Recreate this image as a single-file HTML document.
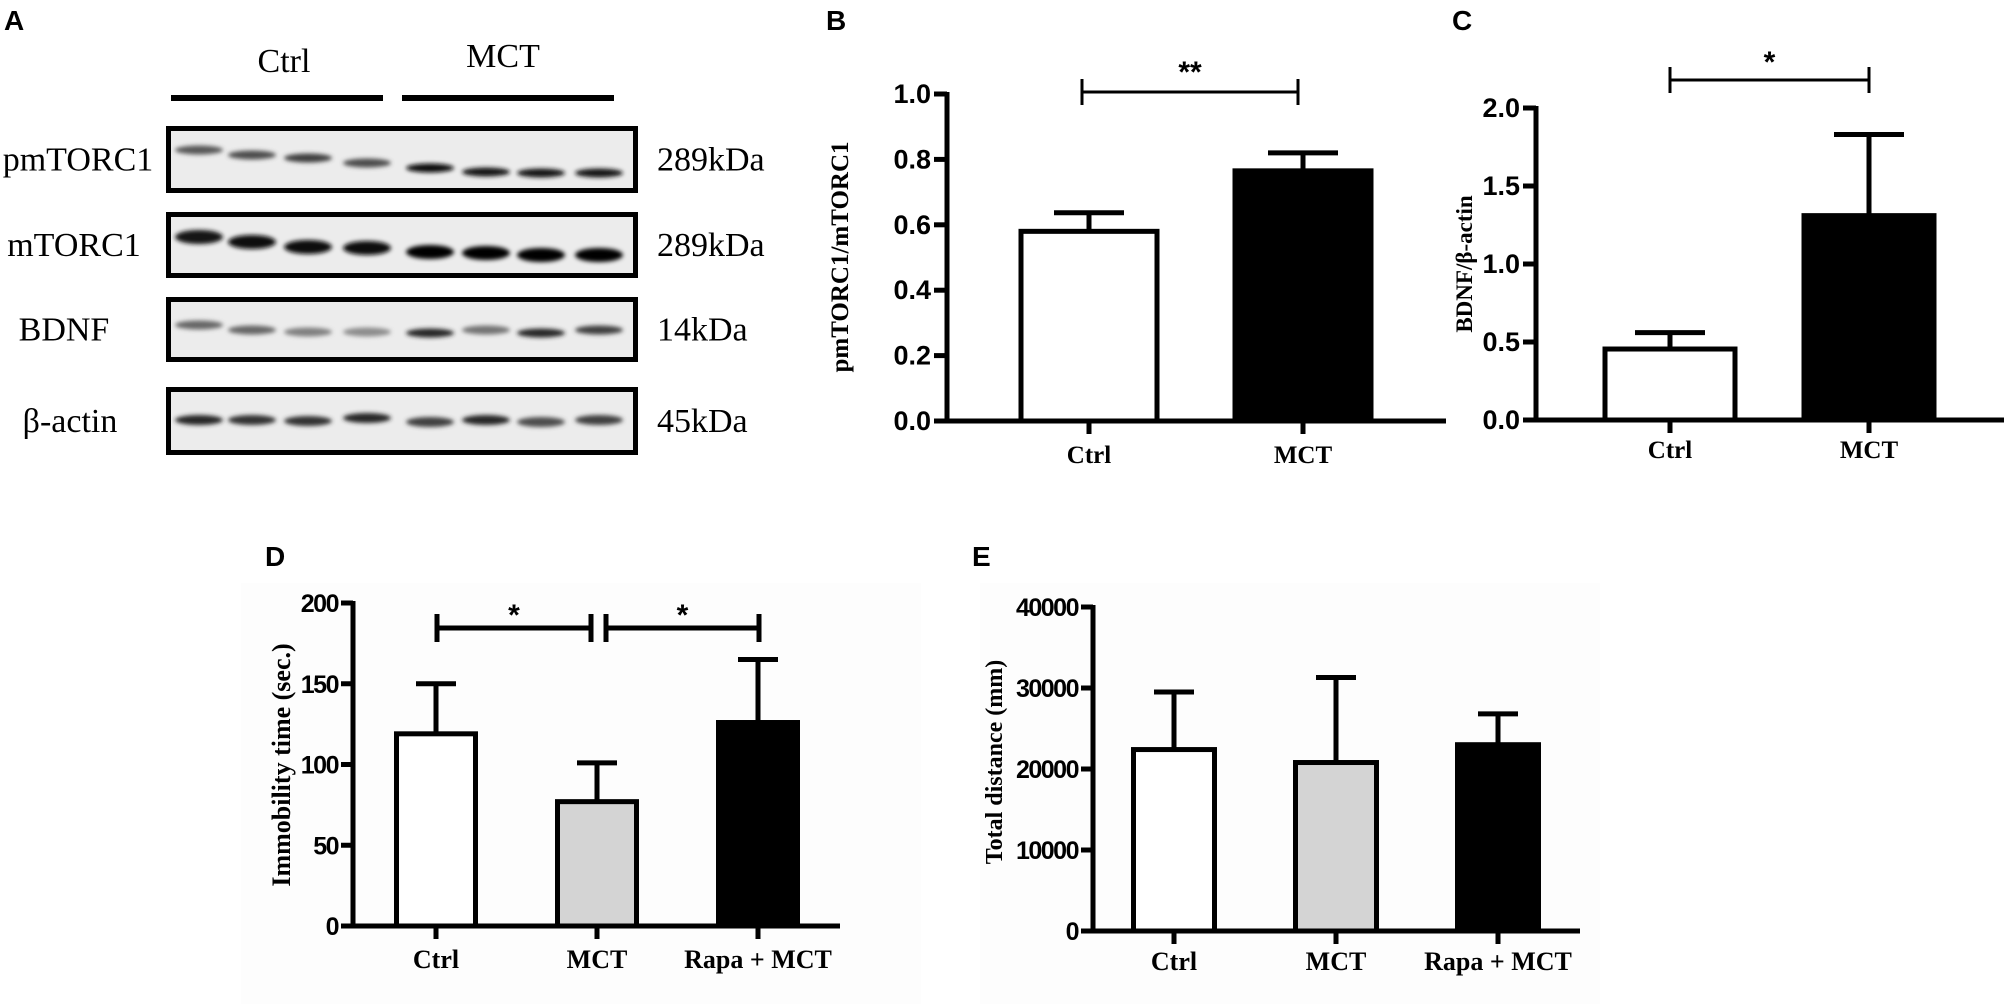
<!DOCTYPE html>
<html><head><meta charset="utf-8">
<style>
html,body{margin:0;padding:0;background:#fff;}
svg{display:block;}
.sans{font-family:"Liberation Sans",sans-serif;font-weight:bold;}
.serif{font-family:"Liberation Serif",serif;}
</style></head>
<body>
<svg id="fig" width="2008" height="1004" viewBox="0 0 2008 1004" xmlns="http://www.w3.org/2000/svg">
<defs>
<filter id="blur" x="-30%" y="-100%" width="160%" height="300%"><feGaussianBlur stdDeviation="2.2"/></filter>
</defs>
<rect x="241" y="583" width="680" height="421" fill="#fdfdfd"/>
<rect x="980" y="583" width="620" height="421" fill="#fdfdfd"/>
<g class="sans" font-size="28">
<text x="4" y="30">A</text>
<text x="826" y="30">B</text>
<text x="1452" y="30">C</text>
<text x="265" y="566">D</text>
<text x="972" y="566">E</text>
</g>
<g id="blot"></g>
<g id="charts"></g>
</svg>
<script>
// ---------- Western blot data ----------
const blotRows = ["pmTORC1","mTORC1","BDNF","β-actin"];
const blotWeights = ["289kDa","289kDa","14kDa","45kDa"];
const laneIntensity = [
  [0.65,0.7,0.75,0.7,0.95,0.9,0.9,0.9],
  [0.9,0.95,0.95,0.95,1,1,1,1],
  [0.6,0.6,0.5,0.45,0.85,0.55,0.85,0.75],
  [0.85,0.8,0.8,0.85,0.75,0.85,0.7,0.75]
];

// ---------- Chart B ----------
const bCategories = ["Ctrl","MCT"];
const bMeans = [0.58,0.765];
const bErrors = [0.057,0.055];
const bTicks = [0,0.2,0.4,0.6,0.8,1.0];
const bTickLabels = ["0.0","0.2","0.4","0.6","0.8","1.0"];
// ---------- Chart C ----------
const cCategories = ["Ctrl","MCT"];
const cMeans = [0.455,1.31];
const cErrors = [0.105,0.52];
const cTicks = [0,0.5,1.0,1.5,2.0];
const cTickLabels = ["0.0","0.5","1.0","1.5","2.0"];
// ---------- Chart D ----------
const dCategories = ["Ctrl","MCT","Rapa + MCT"];
const dMeans = [119,77,126];
const dErrors = [31,24,39];
const dTicks = [0,50,100,150,200];
const dTickLabels = ["0","50","100","150","200"];
// ---------- Chart E ----------
const eCategories = ["Ctrl","MCT","Rapa + MCT"];
const eMeans = [22400,20800,23000];
const eErrors = [7100,10500,3800];
const eTicks = [0,10000,20000,30000,40000];
const eTickLabels = ["0","10000","20000","30000","40000"];

const NS = "http://www.w3.org/2000/svg";
function mk(tag, attrs, parent){
  const e = document.createElementNS(NS, tag);
  for (const k in attrs) e.setAttribute(k, attrs[k]);
  parent.appendChild(e);
  return e;
}

// ---------- draw blot ----------
(function(){
  const g = document.getElementById('blot');
  const boxX = 166, boxW = 472;
  const boxY = [126,212,297,387], boxH = [67,66,65,68];
  const laneX = [199,252,308,367,430,486,541,599];
  const bandY = [[150,155,158,163,168,172,173,173],[237,242,247,248,252,253,255,255],[325,330,332,332,333,330,333,330],[420,420,421,418,422,420,422,420]];
  const bandH = [7,12,7,8];
  const labelX = [78,74,64,70];
  const h1 = mk('text',{x:284,y:72,'text-anchor':'middle','font-size':34,class:'serif'},g);
  h1.textContent='Ctrl';
  
  
  const h2 = mk('text',{x:503,y:67,'text-anchor':'middle','font-size':34,class:'serif'},g);
  h2.textContent='MCT';
  
  
  const l1 = mk('rect',{x:171,y:95,width:212,height:6,fill:'#000'},g);
  
  
  const l2 = mk('rect',{x:402,y:95,width:212,height:6,fill:'#000'},g);
  
  
  blotRows.forEach((name,r)=>{
    const bx = mk('rect',{x:boxX+2.5,y:boxY[r]+2.5,width:boxW-5,height:boxH[r]-5,fill:'#ececec',stroke:'#000','stroke-width':5},g);
    
    
    laneIntensity[r].forEach((v,i)=>{
      const c = Math.round(255*(1-v));
      const band = mk('ellipse',{cx:laneX[i],cy:bandY[r][i],rx:24,ry:bandH[r]/2+1,fill:`rgb(${c},${c},${c})`,filter:'url(#blur)'},g);
      
      
    });
    const t = mk('text',{x:labelX[r],y:boxY[r]+boxH[r]/2+11,'text-anchor':'middle','font-size':34,class:'serif'},g);
    t.textContent = name;
    
    
    const w = mk('text',{x:657,y:boxY[r]+boxH[r]/2+11,'font-size':34,class:'serif'},g);
    w.textContent = blotWeights[r];
    
    
  });
})();

// ---------- generic bar chart ----------
function barChart(o){
  const g = mk('g',{},document.getElementById('charts'));
  
  
  const maxV = o.ticks[o.ticks.length-1];
  const y = v => o.y0 - (v/maxV)*(o.y0-o.yTop);
  const x = i => o.xc[i];
  const sw = 5;
  o.means.forEach((m,i)=>{
    const top = y(m), e = y(m+o.errs[i]);
    const err = mk('line',{x1:x(i),x2:x(i),y1:top,y2:e,stroke:'#000','stroke-width':sw},g);
    
    
    const cap = mk('line',{x1:x(i)-o.capW/2,x2:x(i)+o.capW/2,y1:e,y2:e,stroke:'#000','stroke-width':sw},g);
    
    
    const b = mk('rect',{x:x(i)-o.bw/2,y:top,width:o.bw,height:o.y0-top,fill:o.fills[i],stroke:'#000','stroke-width':sw},g);
    
    
  });
  const ya = mk('line',{x1:o.ax,x2:o.ax,y1:o.yTop-2,y2:o.y0+2.5,stroke:'#000','stroke-width':sw},g);
  
  
  const xa = mk('line',{x1:o.ax-o.tick,x2:o.xEnd,y1:o.y0,y2:o.y0,stroke:'#000','stroke-width':sw},g);
  
  
  o.ticks.forEach((t,i)=>{
    const tl = mk('line',{x1:o.ax-o.tick,x2:o.ax,y1:y(t),y2:y(t),stroke:'#000','stroke-width':sw},g);
    
    
    const tx = mk('text',{x:o.ax-o.tick-3,y:y(t)+9,'text-anchor':'end','font-size':o.tickFont,class:'sans','letter-spacing':o.ls||0},g);
    tx.textContent = o.tickLabels[i];
    
    
  });
  o.cats.forEach((c,i)=>{
    const tl = mk('line',{x1:x(i),x2:x(i),y1:o.y0,y2:o.y0+13,stroke:'#000','stroke-width':sw},g);
    
    
    const tx = mk('text',{x:x(i),y:o.labY,'text-anchor':'middle','font-size':o.catFont,class:'serif','font-weight':'bold'},g);
    tx.textContent = c;
    
    
  });
  const yt = mk('text',{x:0,y:0,'text-anchor':'middle','font-size':o.titleFont,class:'serif','font-weight':'bold',transform:`translate(${o.titleX},${o.titleY}) rotate(-90)`},g);
  yt.textContent = o.title;
  
  
  (o.sig||[]).forEach(s=>{
    const x1 = x(s.a)+(s.da||0), x2 = x(s.b)+(s.db||0);
    const bl = mk('path',{d:`M${x1},${s.y-s.h} V${s.y+s.h} M${x1},${s.y} H${x2} M${x2},${s.y-s.h} V${s.y+s.h}`,stroke:'#000','stroke-width':s.w,fill:'none'},g);
    
    
    const st = mk('text',{x:(x1+x2)/2,y:s.y-s.ty,'text-anchor':'middle','font-size':30,class:'sans'},g);
    st.textContent = s.label;
    
    
  });
}

barChart({name:'chart-b-pmtorc1',cats:bCategories,means:bMeans,errs:bErrors,ticks:bTicks,tickLabels:bTickLabels,
  y0:421,yTop:94,ax:947,xEnd:1446,tick:13,xc:[1089,1303],bw:136,capW:70,fills:['#fff','#000'],
  labY:463,tickFont:27,catFont:25,title:'pmTORC1/mTORC1',titleX:848,titleY:257,titleFont:25,
  sig:[{a:0,b:1,da:-7,db:-5,y:92,h:13,w:3,ty:10,label:'**'}]});
barChart({name:'chart-c-bdnf',cats:cCategories,means:cMeans,errs:cErrors,ticks:cTicks,tickLabels:cTickLabels,
  y0:420,yTop:108,ax:1536,xEnd:2004,tick:13,xc:[1670,1869],bw:130,capW:70,fills:['#fff','#000'],
  labY:458,tickFont:27,catFont:25,title:'BDNF/β-actin',titleX:1472,titleY:264,titleFont:23,
  sig:[{a:0,b:1,y:80,h:13,w:3,ty:8,label:'*'}]});
barChart({name:'chart-d-immobility',cats:dCategories,means:dMeans,errs:dErrors,ticks:dTicks,tickLabels:dTickLabels,
  y0:926,yTop:603,ax:353,xEnd:840,tick:12,xc:[436,597,758],bw:79,capW:40,fills:['#fff','#d4d4d4','#000'],
  labY:968,tickFont:25,catFont:26,title:'Immobility time (sec.)',titleX:290,titleY:765,titleFont:26,ls:-1.5,
  sig:[{a:0,b:1,da:1,db:-6,y:628,h:14,w:5,ty:3,label:'*'},{a:1,b:2,da:9,db:1,y:628,h:14,w:5,ty:3,label:'*'}]});
barChart({name:'chart-e-distance',cats:eCategories,means:eMeans,errs:eErrors,ticks:eTicks,tickLabels:eTickLabels,
  y0:931,yTop:607,ax:1093,xEnd:1580,tick:12,xc:[1174,1336,1498],bw:81,capW:40,fills:['#fff','#d4d4d4','#000'],
  labY:970,tickFont:25,catFont:26,title:'Total distance (mm)',titleX:1002,titleY:762,titleFont:24,ls:-1.5});
</script>
</body></html>
